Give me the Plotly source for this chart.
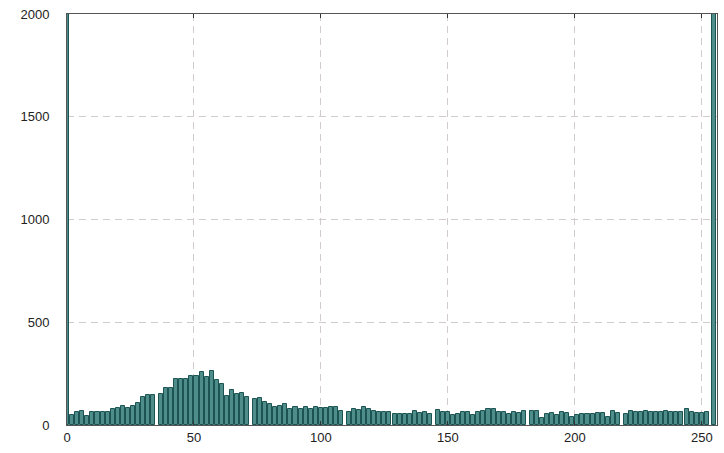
import plotly.graph_objects as go

# Pixel levels that actually occur in the image (every other level, with a
# skipped one roughly every 37 levels), and how many pixels hold each level.
levels = [
    0, 2, 4, 6, 8, 10, 12, 14, 16, 18, 20, 22, 24, 26, 28, 30, 32, 34,
    37, 39, 41, 43, 45, 47, 49, 51, 53, 55, 57, 59, 61, 63, 65, 67, 69, 71,
    74, 76, 78, 80, 82, 84, 86, 88, 90, 92, 94, 96, 98, 100, 102, 104, 106, 108,
    111, 113, 115, 117, 119, 121, 123, 125, 127, 129, 131, 133, 135, 137, 139, 141, 143,
    146, 148, 150, 152, 154, 156, 158, 160, 162, 164, 166, 168, 170, 172, 174, 176, 178, 180,
    183, 185, 187, 189, 191, 193, 195, 197, 199, 201, 203, 205, 207, 209, 211, 213, 215, 217,
    220, 222, 224, 226, 228, 230, 232, 234, 236, 238, 240, 242, 244, 246, 248, 250, 252,
    255,
]

counts = [
    2600,
    49, 62, 70, 45, 65, 62, 62, 62, 76, 81, 94, 84, 94, 105, 138, 144, 148,
    149, 178, 182, 224, 222, 222, 240, 240, 259, 235, 262, 218, 201, 142, 170, 153, 154, 138,
    128, 131, 113, 101, 88, 94, 101, 76, 89, 80, 89, 80, 86, 85, 85, 89, 88, 68,
    62, 80, 73, 88, 76, 70, 62, 65, 65, 52, 52, 52, 55, 66, 57, 62, 55,
    71, 62, 62, 50, 52, 62, 62, 47, 62, 70, 76, 76, 65, 62, 55, 62, 57, 66,
    70, 70, 36, 52, 57, 47, 63, 57, 40, 47, 52, 52, 52, 60, 60, 40, 68, 57,
    54, 70, 65, 63, 70, 65, 62, 62, 70, 62, 62, 62, 80, 65, 60, 57, 63,
    2600,
]

x_ticks = [0, 50, 100, 150, 200, 250]
y_ticks = [0, 500, 1000, 1500, 2000]

fig = go.Figure(
    go.Bar(
        x=levels,
        y=counts,
        width=1.6,
        marker=dict(color="#4f8d8b", line=dict(color="#1b5453", width=1)),
        hoverinfo="x+y",
    )
)

grid = dict(showgrid=True, gridcolor="#d2cbcb", gridwidth=1, griddash="7px,5px")

fig.update_layout(
    width=724,
    height=453,
    margin=dict(l=67, r=7, t=14, b=28),
    plot_bgcolor="white",
    paper_bgcolor="white",
    showlegend=False,
    bargap=0,
    font=dict(family="Liberation Sans, Arial, sans-serif", size=13, color="#222222"),
    xaxis=dict(
        range=[0, 256],
        tickvals=x_ticks,
        ticks="inside",
        ticklen=4,
        tickcolor="#333333",
        showline=True,
        linecolor="#555555",
        linewidth=1,
        mirror="ticks",
        zeroline=False,
        **grid,
    ),
    yaxis=dict(
        range=[0, 2000],
        tickvals=y_ticks,
        ticks="",
        showline=True,
        linecolor="#555555",
        linewidth=1,
        mirror=True,
        zeroline=False,
        ticklabelstandoff=14,
        **grid,
    ),
)

fig.write_html("out.html")
